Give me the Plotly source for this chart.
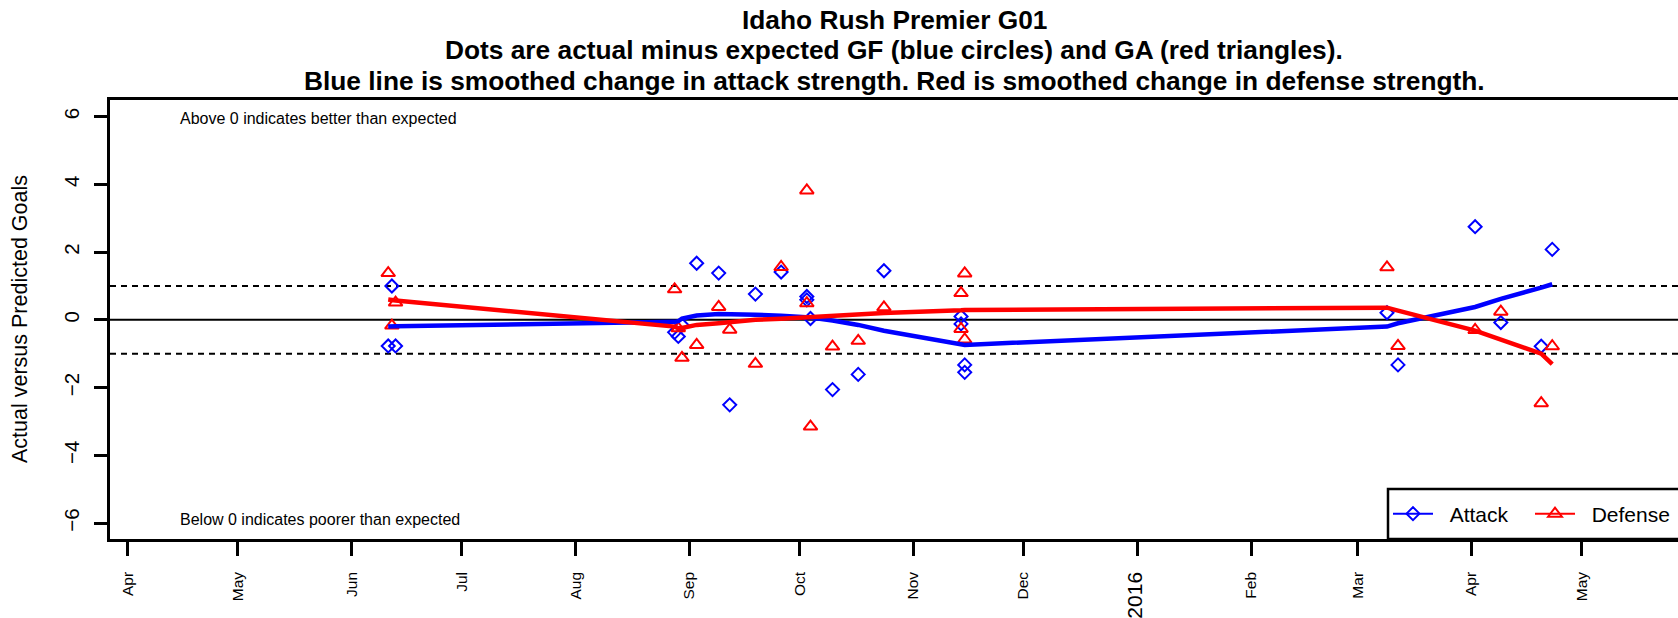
import plotly.graph_objects as go

# ---------------- data ----------------
game_dates = ["2015-06-11", "2015-06-12", "2015-06-13",
              "2015-08-28", "2015-08-29", "2015-08-30",
              "2015-09-03", "2015-09-09", "2015-09-12", "2015-09-19", "2015-09-26",
              "2015-10-03", "2015-10-03", "2015-10-04", "2015-10-10", "2015-10-17", "2015-10-24",
              "2015-11-14", "2015-11-14", "2015-11-15", "2015-11-15",
              "2016-03-09", "2016-03-12", "2016-04-02", "2016-04-09", "2016-04-20", "2016-04-23"]
attack_resid = [-0.77, 1.00, -0.77,
                -0.37, -0.49, -0.15,
                1.67, 1.38, -2.51, 0.76, 1.41,
                0.69, 0.59, 0.04, -2.06, -1.61, 1.45,
                0.10, -0.12, -1.33, -1.55,
                0.21, -1.33, 2.75, -0.08, -0.78, 2.08]
defense_resid = [1.38, -0.17, 0.51,
                 0.90, -0.25, -1.12,
                 -0.74, 0.38, -0.29, -1.30, 1.56,
                 3.82, 0.49, -3.15, -0.79, -0.62, 0.37,
                 0.79, -0.27, 1.37, -0.58,
                 1.55, -0.77, -0.30, 0.24, -2.46, -0.78]

smooth_dates = ["2015-06-11", "2015-06-12", "2015-06-13",
                "2015-08-28", "2015-08-29", "2015-08-30",
                "2015-09-03", "2015-09-09", "2015-09-12", "2015-09-19", "2015-09-26",
                "2015-10-03", "2015-10-04", "2015-10-10", "2015-10-17", "2015-10-24",
                "2015-11-14", "2015-11-15",
                "2016-03-09", "2016-03-12", "2016-04-02", "2016-04-09", "2016-04-20", "2016-04-23"]
attack_smooth = [-0.20, -0.20, -0.19,
                 -0.06, -0.04, 0.04,
                 0.13, 0.17, 0.17, 0.15, 0.12,
                 0.08, 0.07, -0.02, -0.15, -0.32,
                 -0.72, -0.74,
                 -0.20, -0.10, 0.38, 0.62, 0.95, 1.05]
defense_smooth = [0.60, 0.58, 0.57,
                  -0.20, -0.25, -0.24,
                  -0.15, -0.10, -0.07, 0.00, 0.03,
                  0.07, 0.08, 0.10, 0.15, 0.20,
                  0.28, 0.29,
                  0.36, 0.27, -0.32, -0.58, -1.00, -1.31]

month_ticks = ["2015-04-01", "2015-05-01", "2015-06-01", "2015-07-01", "2015-08-01",
               "2015-09-01", "2015-10-01", "2015-11-01", "2015-12-01", "2016-01-01",
               "2016-02-01", "2016-03-01", "2016-04-01", "2016-05-01"]
month_labels = ["Apr", "May", "Jun", "Jul", "Aug", "Sep", "Oct", "Nov", "Dec",
                "<span style='font-size:21px'>2016</span>", "Feb", "Mar", "Apr", "May"]
y_ticks = [-6, -4, -2, 0, 2, 4, 6]

series_names = ["Attack", "Defense"]

title_lines = ["Idaho Rush Premier G01",
               "Dots are actual minus expected GF (blue circles) and GA (red triangles).",
               "Blue line is smoothed change in attack strength. Red is smoothed change in defense strength."]

# ---------------- layout geometry ----------------
W, H = 1678, 618
ML, MR, MT, MB = 110, 0, 100, 79
PW = W - ML - MR
PH = H - MT - MB
FONT = "Liberation Sans, Arial, Helvetica, sans-serif"

def px_x(p):
    return (p - ML) / PW

def px_y(p):
    return (H - MB - p) / PH

BLUE = "#0000FF"
RED = "#FF0000"
NBSP = "\u00a0"

fig = go.Figure()

# points
fig.add_trace(go.Scatter(x=game_dates, y=attack_resid, mode="markers", showlegend=False,
                         marker=dict(symbol="diamond-open", size=10, color=BLUE,
                                     line=dict(color=BLUE, width=2))))
fig.add_trace(go.Scatter(x=game_dates, y=defense_resid, mode="markers", showlegend=False,
                         marker=dict(symbol="triangle-up-open", size=12, color=RED,
                                     line=dict(color=RED, width=2))))
# smoothed lines
fig.add_trace(go.Scatter(x=smooth_dates, y=attack_smooth, mode="lines", showlegend=False,
                         line=dict(color=BLUE, width=4.5)))
fig.add_trace(go.Scatter(x=smooth_dates, y=defense_smooth, mode="lines", showlegend=False,
                         line=dict(color=RED, width=4.5)))
# legend entries
fig.add_trace(go.Scatter(x=[None], y=[None], mode="lines+markers",
                         name=NBSP * 2 + series_names[0],
                         line=dict(color=BLUE, width=2),
                         marker=dict(symbol="diamond-open", size=10, color=BLUE,
                                     line=dict(color=BLUE, width=2))))
fig.add_trace(go.Scatter(x=[None], y=[None], mode="lines+markers",
                         name=NBSP * 2 + series_names[1],
                         line=dict(color=RED, width=2),
                         marker=dict(symbol="triangle-up-open", size=12, color=RED,
                                     line=dict(color=RED, width=2))))

shapes = [
    dict(type="line", xref="paper", x0=0, x1=1, yref="y", y0=0, y1=0,
         line=dict(color="black", width=2), layer="below"),
    dict(type="line", xref="paper", x0=0, x1=1, yref="y", y0=1, y1=1,
         line=dict(color="black", width=2, dash="6px,5px"), layer="below"),
    dict(type="line", xref="paper", x0=0, x1=1, yref="y", y0=-1, y1=-1,
         line=dict(color="black", width=2, dash="6px,5px"), layer="below"),
    # legend frame
    dict(type="rect", xref="paper", yref="paper", x0=px_x(1388), x1=px_x(1695),
         y0=px_y(539), y1=px_y(489), fillcolor="white",
         line=dict(color="black", width=2.5), layer="above"),
]

annotations = []
for txt, ypx in zip(title_lines, [19.5, 50.0, 80.5]):
    annotations.append(dict(text=txt, xref="paper", yref="paper", x=0.5, y=px_y(ypx),
                            xanchor="center", yanchor="middle", showarrow=False,
                            font=dict(family=FONT, size=26.3, color="black", weight="bold")))
annotations.append(dict(text="Above 0 indicates better than expected", xref="paper", yref="paper",
                        x=px_x(178), y=px_y(119), xanchor="left", yanchor="middle",
                        showarrow=False, font=dict(family=FONT, size=16, color="black")))
annotations.append(dict(text="Below 0 indicates poorer than expected", xref="paper", yref="paper",
                        x=px_x(178), y=px_y(519), xanchor="left", yanchor="middle",
                        showarrow=False, font=dict(family=FONT, size=16, color="black")))
annotations.append(dict(text="Actual versus Predicted Goals", xref="paper", yref="paper",
                        x=px_x(19.5), y=0.5, xanchor="center", yanchor="middle", textangle=-90,
                        showarrow=False, font=dict(family=FONT, size=21.5, color="black")))

fig.update_layout(
    width=W, height=H,
    margin=dict(l=ML, r=MR, t=MT, b=MB, pad=0),
    paper_bgcolor="white", plot_bgcolor="white",
    font=dict(family=FONT, color="black"),
    shapes=shapes,
    annotations=annotations,
    legend=dict(orientation="h", x=px_x(1388), xanchor="left", y=px_y(514), yanchor="middle",
                bgcolor="rgba(0,0,0,0)", borderwidth=0,
                itemwidth=40, entrywidth=87, entrywidthmode="pixels",
                font=dict(family=FONT, size=21, color="black")),
    xaxis=dict(type="date", range=["2015-03-27 05:37", "2016-05-27 06:00"],
               tickmode="array", tickvals=month_ticks, ticktext=month_labels,
               tickangle=-90, ticks="outside", ticklen=14, tickwidth=2.5, tickcolor="black",
               tickfont=dict(family=FONT, size=15.5, color="black"),
               ticklabelstandoff=10,
               showline=True, linecolor="black", linewidth=2.5, mirror=True,
               showgrid=False, zeroline=False),
    yaxis=dict(range=[-6.47, 6.49], tickmode="array", tickvals=y_ticks,
               tickangle=-90, ticks="outside", ticklen=13, tickwidth=2.5, tickcolor="black",
               tickfont=dict(family=FONT, size=20.5, color="black"),
               ticklabelstandoff=7,
               showline=True, linecolor="black", linewidth=2.5, mirror=False,
               showgrid=False, zeroline=False),
)

fig.write_html("out.html", config={"displayModeBar": False},
               post_script="document.body.style.margin='0';document.body.style.overflow='hidden';")
